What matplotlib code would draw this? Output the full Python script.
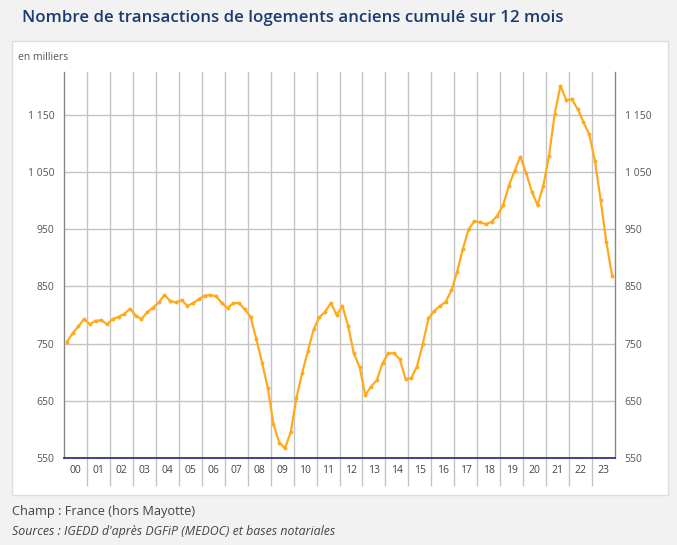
import matplotlib
matplotlib.use("Agg")
import matplotlib.pyplot as plt
from matplotlib.patches import Rectangle
from matplotlib.ticker import FixedLocator, FuncFormatter, NullFormatter

plt.rcParams['font.family'] = ['Open Sans', 'DejaVu Sans']

# trimestres 2000 T1 -> 2023 T4, en milliers
years = list(range(2000, 2024))
year_labels = ["%02d" % (y % 100) for y in years]
values = [
    753, 768, 780, 793,     # 2000
    784, 790, 791, 784,     # 2001
    793, 797, 802, 811,     # 2002
    799, 793, 805, 813,     # 2003
    822, 835, 825, 822,     # 2004
    826, 816, 821, 828,     # 2005
    834, 835, 833, 821,     # 2006
    812, 821, 821, 810,     # 2007
    797, 758, 717, 673,     # 2008
    609, 577, 567, 595,     # 2009
    655, 699, 737, 775,     # 2010
    796, 806, 821, 800,     # 2011
    816, 781, 733, 709,     # 2012
    660, 675, 686, 716,     # 2013
    733, 733, 723, 688,     # 2014
    690, 710, 749, 794,     # 2015
    807, 816, 823, 843,     # 2016
    876, 916, 950, 964,     # 2017
    962, 959, 963, 974,     # 2018
    992, 1026, 1052, 1077,  # 2019
    1049, 1016, 992, 1026,  # 2020
    1078, 1152, 1201, 1176, # 2021
    1177, 1160, 1138, 1116, # 2022
    1070, 1001, 927, 869,   # 2023
]
y_ticks = [550, 650, 750, 850, 950, 1050, 1150]

xs = [years[0] + (i + 0.5) / 4 for i in range(len(values))]

fig = plt.figure(figsize=(6.77, 5.45), dpi=100)
fig.patch.set_facecolor('#f2f2f2')

# cadre blanc
fig.patches.append(Rectangle((12 / 677, 1 - 495 / 545), 656 / 677, 454 / 545,
                             transform=fig.transFigure, facecolor='white',
                             edgecolor='#dddddd', linewidth=1, zorder=-5))

fig.text(22 / 677, 1 - 18 / 545, "Nombre de transactions de logements anciens cumulé sur 12 mois",
         fontsize=12.2, fontweight='semibold', color='#1c3b70', va='center', ha='left')
fig.text(18 / 677, 1 - 57 / 545, "en milliers", fontsize=7.5, color='#555555', va='center')
fig.text(12 / 677, 1 - 511 / 545, "Champ : France (hors Mayotte)", fontsize=9.2, color='#444444', va='center')
fig.text(12 / 677, 1 - 532 / 545, "Sources : IGEDD d'après DGFiP (MEDOC) et bases notariales",
         fontsize=8.9, color='#444444', style='italic', va='center')

ax = fig.add_axes([64 / 677, 1 - 458 / 545, 551 / 677, 386 / 545])
ax.set_zorder(1)
ax.set_facecolor('white')
ax.set_xlim(2000, 2024)
ax.set_ylim(550, 1225)

ax.plot(xs, values, color='#ffaa1d', linewidth=1.6, marker='o', markersize=2.8,
        markeredgewidth=0, zorder=3, clip_on=False)

# grille
for y in y_ticks[1:]:
    ax.axhline(y, color='#c4c4c4', linewidth=1, zorder=1)
ax.axhline(550, color='#2e3192', linewidth=1.3, zorder=4, clip_on=False)

ax.xaxis.set_major_locator(FixedLocator(years[1:]))
ax.xaxis.set_minor_locator(FixedLocator([y + 0.5 for y in years]))
ax.xaxis.set_major_formatter(NullFormatter())
ax.xaxis.set_minor_formatter(FuncFormatter(lambda v, p: year_labels[int(v - 2000)]))
ax.tick_params(axis='x', which='major', length=20, width=1, color='#c4c4c4', direction='out')
ax.tick_params(axis='x', which='minor', length=0, pad=5, labelsize=7.5, labelcolor='#444444')
ax.grid(axis='x', which='major', color='#c4c4c4', linewidth=1, zorder=1)

ax.set_yticks(y_ticks)
ax.yaxis.set_major_formatter(FuncFormatter(lambda v, p: "{:,}".format(int(v)).replace(",", " ")))
ax.tick_params(axis='y', length=0, pad=7, labelsize=7.5, labelcolor='#555555',
               labelleft=True, labelright=True)

for side in ['top', 'bottom']:
    ax.spines[side].set_visible(False)
for side in ['left', 'right']:
    ax.spines[side].set_color('#888888')
    ax.spines[side].set_linewidth(1)

fig.savefig("out.png", dpi=100, facecolor=fig.get_facecolor())
